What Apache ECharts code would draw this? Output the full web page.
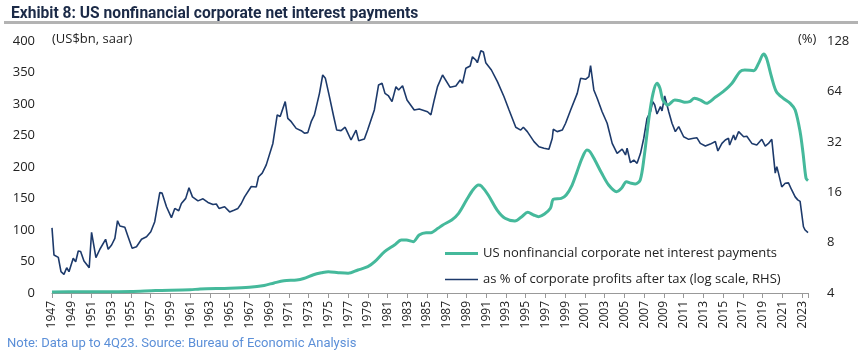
<!DOCTYPE html>
<html>
<head>
<meta charset="utf-8">
<script src="https://cdn.jsdelivr.net/npm/echarts@6/dist/echarts.min.js"></script>
<style>
html,body{margin:0;padding:0;background:#fff;}
#chart{width:858px;height:358px;}
</style>
</head>
<body>
<div id="chart"></div>
<script>
// ---- data ----
const startYear = 1947;
const tickLabelsYears = [1947,1949,1951,1953,1955,1957,1959,1961,1963,1965,1967,1969,1971,1973,1975,1977,1979,1981,1983,1985,1987,1989,1991,1993,1995,1997,1999,2001,2003,2005,2007,2009,2011,2013,2015,2017,2019,2021,2023];

// US nonfinancial corporate net interest payments (US$bn, saar) - LHS
const interestYears = [1947.0,1950.0,1955.0,1957.5,1961.0,1962.0,1965.0,1967.0,1968.5,1969.5,1970.5,1971.8,1972.5,1973.5,1974.3,1975.0,1976.0,1977.0,1978.0,1979.0,1979.7,1980.7,1981.7,1982.4,1982.9,1983.6,1984.2,1984.9,1985.4,1986.1,1986.6,1987.5,1988.2,1989.0,1989.7,1990.2,1990.5,1991.2,1992.1,1992.9,1993.9,1994.6,1995.2,1995.8,1996.3,1996.9,1997.5,1997.8,1998.6,1999.1,1999.7,2000.2,2000.7,2001.2,2001.5,2002.0,2002.7,2003.4,2004.2,2004.7,2005.2,2005.7,2006.1,2006.6,2007.0,2007.5,2007.9,2008.3,2008.6,2008.9,2009.4,2010.1,2010.6,2011.1,2011.6,2012.1,2012.7,2013.3,2014.2,2015.0,2015.9,2016.7,2017.2,2018.1,2018.6,2019.1,2019.4,2019.9,2020.4,2021.1,2021.8,2022.3,2022.8,2023.1,2023.4,2023.6];
const interestValues = [1.5,2.0,2.5,4.0,5.0,6.5,7.5,9.0,12.0,16.0,19.5,20.6,23.0,29.0,32.0,33.8,32.3,31.3,36.5,41.8,49.7,65.6,76.2,84.1,84.1,81.5,92.1,95.8,95.8,102.6,108.0,115.9,126.5,147.6,164.6,171.4,169.8,155.6,131.7,118.6,114.3,121.2,128.1,123.8,121.2,125.4,134.4,148.7,150.3,155.6,171.4,192.5,213.8,227.0,224.3,211.1,190.0,171.4,160.8,166.2,176.7,174.1,173.0,179.4,216.3,279.8,317.0,332.9,325.0,306.3,298.4,306.3,305.2,302.7,303.7,309.0,306.3,301.1,310.6,319.5,332.9,351.3,354.0,352.9,364.6,379.4,372.5,343.3,319.5,309.0,301.1,290.5,256.0,221.7,182.0,178.3];

// as % of corporate profits after tax (log scale, RHS)
const shareYears = [1947.0,1947.2,1947.64,1947.91,1948.21,1948.49,1948.72,1949.15,1949.4,1949.66,1949.9,1950.24,1950.77,1951.01,1951.45,1951.85,1952.43,1952.69,1953.04,1953.37,1953.64,1953.88,1954.38,1954.71,1955.12,1955.56,1956.07,1956.58,1957.01,1957.41,1957.92,1958.15,1958.6,1959.1,1959.44,1959.84,1960.11,1960.55,1960.88,1961.23,1961.79,1962.3,1962.8,1963.31,1963.65,1963.92,1964.49,1964.66,1965.0,1965.43,1965.84,1966.18,1966.51,1967.19,1967.7,1967.93,1968.3,1968.71,1969.38,1969.82,1970.12,1970.63,1970.89,1971.24,1971.74,1972.25,1972.58,1972.92,1973.26,1973.59,1974.1,1974.43,1974.7,1975.11,1975.54,1975.85,1976.29,1976.7,1976.86,1977.3,1977.81,1978.07,1978.65,1978.98,1979.66,1980.09,1980.44,1980.74,1981.1,1981.45,1981.85,1982.12,1982.52,1982.97,1983.7,1984.21,1985.05,1985.39,1985.73,1986.06,1986.57,1987.34,1987.92,1988.36,1988.59,1988.93,1989.37,1989.6,1989.94,1990.1,1990.45,1990.71,1990.95,1991.52,1992.13,1992.8,1993.31,1993.99,1994.49,1994.76,1995.16,1995.84,1996.34,1996.85,1997.35,1997.69,1997.79,1998.19,1998.7,1999.04,1999.55,2000.22,2000.56,2001.06,2001.4,2001.57,2001.9,2002.24,2002.74,2003.25,2003.76,2004.26,2004.77,2005.11,2005.27,2005.61,2005.95,2006.28,2006.63,2006.96,2007.29,2007.64,2007.87,2008.07,2008.3,2008.65,2008.81,2009.08,2009.49,2009.82,2010.16,2010.5,2011.0,2011.51,2012.01,2012.35,2012.69,2013.2,2013.7,2014.21,2014.47,2014.88,2015.22,2015.55,2015.66,2016.06,2016.23,2016.57,2017.08,2017.4,2017.91,2018.41,2018.92,2019.27,2019.6,2019.93,2020.28,2020.44,2020.61,2020.94,2021.29,2021.62,2021.95,2022.3,2022.56,2022.8,2023.14,2023.31,2023.6];
const shareValues = [9.8,6.75,6.53,5.36,5.17,5.66,5.36,6.45,6.15,7.13,7.08,6.21,5.66,9.22,6.5,7.3,8.37,7.3,7.74,8.49,10.81,10.05,9.87,8.68,7.4,7.56,8.37,8.68,9.29,10.66,15.9,15.8,13.1,11.27,12.8,12.4,13.7,14.7,17.0,15.0,14.2,14.6,13.9,13.5,13.6,12.8,13.1,13.4,12.2,12.5,12.8,13.7,15.0,17.3,17.2,19.8,20.8,23.3,31.3,46.3,45.3,55.6,44.2,42.2,38.5,37.3,36.0,36.3,42.2,46.3,62.3,80.2,76.6,59.5,45.3,37.6,37.3,39.1,37.3,32.8,37.6,32.5,33.3,37.6,49.6,69.9,71.5,62.3,60.1,55.6,68.3,65.3,69.2,56.9,49.6,50.2,48.4,46.3,56.9,68.3,80.2,67.7,68.9,74.9,71.5,87.9,90.8,103,98.6,95,112,110,95,85.9,73.2,59.5,49.6,39.1,37.6,39.1,36.8,32.1,29.9,29.3,28.9,33.6,38.0,36.8,37.6,41.3,49.6,62.3,76.6,75.6,78.4,91.1,65.3,58.2,48.4,41.3,31.3,27.3,28.9,26.7,29.3,24.0,24.9,23.8,27.3,33.6,44.2,48.4,55.6,53.1,46.9,51.9,48.9,60.1,48.4,41.3,36.8,39.4,34.3,33.1,33.6,33.8,31.3,30.2,31.0,32.1,28.2,31.3,32.8,33.6,30.6,35.1,32.8,36.8,34.3,34.5,31.3,30.6,33.1,30.2,31.3,33.1,20.8,22.7,20.8,17.2,18.1,18.2,16.5,15.0,14.4,14.1,9.95,9.51,9.17];

const seriesNames = ['US nonfinancial corporate net interest payments','as % of corporate profits after tax (log scale, RHS)'];
const leftTicks = {min:0, max:400, interval:50};
const rightTicks = {min:4, max:128};
const lastYear = 2023.6;

// ---- chart ----
const toPairs = (ys, vs) => ys.map((y, i) => [y - startYear, vs[i]]);
const TEAL = '#45b99b', NAVY = '#1d3a6b';
const FONT = '"Open Sans", "Noto Sans", sans-serif';
const legendBase = {
  orient: 'horizontal', left: 440, itemWidth: 33, itemGap: 0, icon: 'rect',
  textStyle: {fontSize: 13, color: '#222', fontFamily: FONT}
};
const chart = echarts.init(document.getElementById('chart'), null, {renderer: 'canvas'});
chart.setOption({
  animation: false,
  backgroundColor: '#fff',
  textStyle: {fontFamily: FONT},
  grid: {left: 52, right: 50, top: 41, bottom: 65, containLabel: false},
  title: {
    text: 'Exhibit 8: US nonfinancial corporate net interest payments',
    left: 6, top: 1,
    textStyle: {fontFamily: 'Roboto, sans-serif', fontWeight: 'bold', fontSize: 15.6, color: '#1b2a47'}
  },
  graphic: [
    {type: 'rect', shape: {x: 4, y: 21, width: 854, height: 3}, style: {fill: '#b3b3b3'}},
    {type: 'text', left: 52, top: 33, style: {text: '(US$bn, saar)', font: '13px ' + FONT, fill: '#222'}},
    {type: 'text', left: 798, top: 33, style: {text: '(%)', font: '13px ' + FONT, fill: '#222'}},
    {type: 'text', left: 7, top: 337, style: {text: 'Note: Data up to 4Q23. Source: Bureau of Economic Analysis', font: '13px Roboto, sans-serif', fill: '#5b8fd8'}}
  ],
  legend: [
    Object.assign({}, legendBase, {top: 242, itemHeight: 3, data: [seriesNames[0]]}),
    Object.assign({}, legendBase, {top: 268, itemHeight: 1.6, data: [seriesNames[1]]})
  ],
  xAxis: {
    type: 'value', min: 0, max: lastYear - startYear, interval: 2,
    axisLine: {show: true, lineStyle: {color: '#999', width: 1}},
    axisTick: {show: true, length: 5, lineStyle: {color: '#999'}},
    splitLine: {show: false},
    axisLabel: {
      rotate: 90, fontSize: 12, color: '#222', margin: 8, fontFamily: FONT,
      formatter: v => {
        const y = Math.round(v) + startYear;
        return (Math.abs(v - Math.round(v)) < 1e-6 && tickLabelsYears.includes(y)) ? String(y) : '';
      }
    }
  },
  yAxis: [
    {
      type: 'value', min: leftTicks.min, max: leftTicks.max, interval: leftTicks.interval,
      axisLine: {show: false}, axisTick: {show: false}, splitLine: {show: false},
      axisLabel: {fontSize: 13, color: '#222', margin: 17, fontFamily: FONT}
    },
    {
      type: 'log', logBase: 2, min: rightTicks.min, max: rightTicks.max, position: 'right',
      axisLine: {show: false}, axisTick: {show: false}, splitLine: {show: false},
      axisLabel: {fontSize: 13, color: '#222', margin: 19, fontFamily: FONT}
    }
  ],
  series: [
    {
      name: seriesNames[0], type: 'line', yAxisIndex: 0, showSymbol: false, symbol: 'none',
      data: toPairs(interestYears, interestValues), smooth: 0.3,
      lineStyle: {color: TEAL, width: 3}, itemStyle: {color: TEAL}, z: 3
    },
    {
      name: seriesNames[1], type: 'line', yAxisIndex: 1, showSymbol: false, symbol: 'none',
      data: toPairs(shareYears, shareValues),
      lineStyle: {color: NAVY, width: 1.6}, itemStyle: {color: NAVY}, z: 2
    }
  ]
});
</script>
</body>
</html>
